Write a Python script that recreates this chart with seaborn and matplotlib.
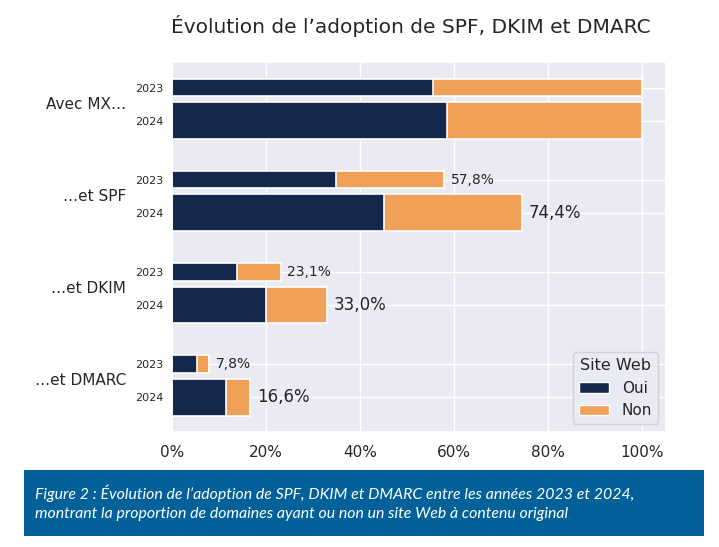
import matplotlib.pyplot as plt
import matplotlib.patches as mpatches
from matplotlib.transforms import blended_transform_factory
import seaborn as sns
import numpy as np
import pandas as pd

groups = ["Avec MX…", "…et SPF", "…et DKIM", "…et DMARC"]
years = ["2023", "2024"]
oui_2023 = [55.6, 34.8, 13.8, 5.3]
total_2023 = [100.0, 57.8, 23.1, 7.8]
oui_2024 = [58.4, 45.0, 20.0, 11.5]
total_2024 = [100.0, 74.4, 33.0, 16.6]

navy = "#14284c"
orange = "#f0a057"

sns.set_theme(style="darkgrid")
plt.rcParams['font.family'] = ['DejaVu Sans']

fig = plt.figure(figsize=(7.19, 5.47), dpi=100)
ax = fig.add_axes([0.239, 0.210, 0.687, 0.677])

g = np.arange(len(groups))
pos_2023 = g - 0.18
pos_2024 = g + 0.18

d23 = pd.DataFrame({"pos": pos_2023, "oui": oui_2023, "total": total_2023})
d24 = pd.DataFrame({"pos": pos_2024, "oui": oui_2024, "total": total_2024})

for d, w in [(d23, 0.19), (d24, 0.40)]:
    sns.barplot(data=d, x="total", y="pos", orient="y", native_scale=True, width=w,
                color=orange, saturation=1, edgecolor="white", linewidth=1.2,
                errorbar=None, ax=ax)
    sns.barplot(data=d, x="oui", y="pos", orient="y", native_scale=True, width=w,
                color=navy, saturation=1, edgecolor="white", linewidth=1.2,
                errorbar=None, ax=ax)

# labels for totals (skip the first group at 100 %)
for i in range(1, len(groups)):
    ax.annotate(f"{total_2023[i]:.1f}%".replace(".", ","), (total_2023[i], pos_2023[i]),
                xytext=(5, 0), textcoords="offset points", va="center", ha="left",
                fontsize=10, color="#262626")
    ax.annotate(f"{total_2024[i]:.1f}%".replace(".", ","), (total_2024[i], pos_2024[i]),
                xytext=(5, 0), textcoords="offset points", va="center", ha="left",
                fontsize=12, color="#262626")

ticks = np.sort(np.concatenate([pos_2023, pos_2024]))
ax.set_yticks(ticks, labels=years * len(groups), fontsize=8)
ax.tick_params(axis="y", pad=0)
ax.set_ylim(3.56, -0.46)
ax.set_xlim(0, 105)
ax.set_xticks([0, 20, 40, 60, 80, 100], labels=[f"{v}%" for v in [0, 20, 40, 60, 80, 100]],
              fontsize=11)
ax.set_xlabel("")
ax.set_ylabel("")

trans = blended_transform_factory(ax.transAxes, ax.transData)
for i, name in enumerate(groups):
    ax.text(-0.093, g[i], name, transform=trans, ha="right", va="center",
            fontsize=11, color="#262626")

handles = [mpatches.Patch(facecolor=navy, edgecolor="white", label="Oui"),
           mpatches.Patch(facecolor=orange, edgecolor="white", label="Non")]
ax.legend(handles=handles, title="Site Web", loc="lower right", fontsize=11,
          title_fontsize=11.5)

fig.suptitle("Évolution de l’adoption de SPF, DKIM et DMARC", x=0.572, y=1 - 26 / 547,
             va="center", fontsize=14.5, color="#262626")

fig.patches.append(mpatches.Rectangle((24 / 719, 11 / 547), 680 / 719, 66 / 547,
                                      transform=fig.transFigure, facecolor="#03619a",
                                      edgecolor="none", zorder=0))
fig.text(35 / 719, 44 / 547,
         "Figure 2 : Évolution de l’adoption de SPF, DKIM et DMARC entre les années 2023 et 2024,\n"
         "montrant la proportion de domaines ayant ou non un site Web à contenu original",
         fontsize=11.4, style="italic", family="Lato", color="white", va="center", ha="left",
         linespacing=1.45)

fig.savefig("out.png", dpi=100)
